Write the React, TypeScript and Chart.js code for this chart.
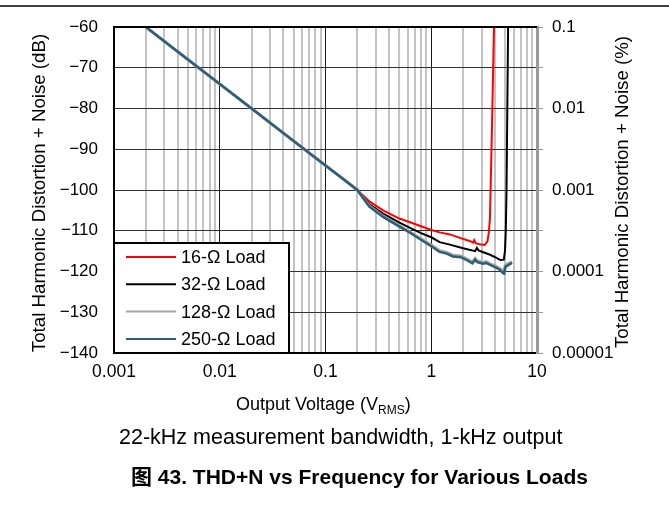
import React, { useEffect, useRef } from 'react';
import { Chart, registerables } from 'chart.js';

Chart.register(...registerables);

// ---------- data ----------
const seriesNames = ['16-Ω Load', '32-Ω Load', '128-Ω Load', '250-Ω Load'];
const seriesColors = ['#ff0000', '#000000', '#a6a6a6', '#2e5f78'];
const seriesWidths = [2, 2, 3, 2.5];

const v16 = [0.002, 0.005, 0.01, 0.02, 0.05, 0.1, 0.15, 0.2, 0.26, 0.35, 0.5, 0.63, 0.8, 1.0, 1.2, 1.5, 1.9, 2.3, 2.5, 2.55, 2.65, 3.0, 3.2, 3.4, 3.5, 3.59, 3.75, 3.92, 3.96];
const db16 = [-60, -68, -74, -80, -88, -94, -97.4, -100, -102.8, -105, -107, -107.9, -108.9, -109.8, -110.4, -110.9, -111.8, -112.5, -112.9, -112.3, -113.1, -113.4, -113.5, -112.6, -110.5, -107, -85, -60, -55];

const v32 = [0.002, 0.005, 0.01, 0.02, 0.05, 0.1, 0.15, 0.2, 0.26, 0.35, 0.5, 0.63, 0.8, 1.0, 1.2, 1.5, 2.0, 2.6, 2.7, 2.8, 3.2, 3.6, 4.1, 4.5, 4.85, 4.98, 5.07, 5.15, 5.33, 5.38];
const db32 = [-60, -68, -74, -80, -88, -94, -97.5, -100, -103.5, -105.8, -108, -109.3, -110.6, -111.6, -112.8, -113.4, -114.3, -115, -114.2, -114.8, -115.4, -115.9, -116.6, -117.2, -117.1, -115, -110, -100, -60, -55];

const v128 = [0.002, 0.005, 0.01, 0.02, 0.05, 0.1, 0.15, 0.2, 0.26, 0.35, 0.5, 0.63, 0.8, 1.0, 1.2, 1.4, 1.6, 1.9, 2.2, 2.45, 2.6, 2.7, 2.8, 3.1, 3.3, 3.6, 4.0, 4.4, 4.75, 4.85, 5.0, 5.15, 5.4, 5.8];
const db128 = [-60, -68, -74, -80, -88, -94, -97.5, -100, -103.9, -106.4, -108.8, -110.3, -112, -113.5, -114.9, -115.3, -116, -116.2, -117, -117.7, -116.8, -117.3, -117.5, -117.8, -117.6, -118.1, -118.6, -119.2, -119.8, -120.1, -118.5, -118.3, -118, -117.6];

const v250 = [0.002, 0.005, 0.01, 0.02, 0.05, 0.1, 0.15, 0.2, 0.26, 0.35, 0.5, 0.63, 0.8, 1.0, 1.2, 1.4, 1.6, 1.9, 2.2, 2.45, 2.6, 2.7, 2.8, 3.1, 3.3, 3.6, 4.0, 4.4, 4.78, 4.88, 5.05, 5.2, 5.45, 5.8];
const db250 = [-60, -68, -74, -80, -88, -94, -97.5, -100, -104.1, -106.6, -109, -110.5, -112.2, -113.8, -115.2, -115.6, -116.3, -116.5, -117.3, -118, -117.1, -117.6, -117.8, -118.1, -117.9, -118.4, -118.9, -119.5, -120.4, -120.5, -118.8, -118.6, -118.3, -117.9];

const xDecades = [0.001, 0.01, 0.1, 1, 10];
const xMinorMultipliers = [1, 2, 3, 4, 5, 6, 7, 8, 9];
const xTickLabels = ['0.001', '0.01', '0.1', '1', '10'];
const yTickValues = [-140, -130, -120, -110, -100, -90, -80, -70, -60];
const yTickLabels = ['\u2212140', '\u2212130', '\u2212120', '\u2212110', '\u2212100', '\u221290', '\u221280', '\u221270', '\u221260'];
const pctTickValues = [-140, -120, -100, -80, -60];
const pctTickLabels = ['0.00001', '0.0001', '0.001', '0.01', '0.1'];

const FONT = '"Liberation Sans", Arial, Helvetica, sans-serif';

const isDecade = (v: number) => {
  const l = Math.log10(v);
  return Math.abs(l - Math.round(l)) < 1e-6;
};

const decorPlugin = {
  id: 'decor',
  beforeDraw(chart: any) {
    const { ctx, width, height } = chart;
    ctx.save();
    ctx.fillStyle = '#ffffff';
    ctx.fillRect(0, 0, width, height);
    ctx.restore();
  },
  afterDatasetsDraw(chart: any) {
    const { ctx, chartArea } = chart;
    ctx.save();
    // legend box
    const bx = chartArea.left;
    const by = 243;
    const bw = 175;
    const bh = chartArea.bottom - by;
    ctx.fillStyle = '#ffffff';
    ctx.fillRect(bx, by, bw, bh);
    ctx.strokeStyle = '#000';
    ctx.lineWidth = 2;
    ctx.strokeRect(bx, by, bw, bh);
    ctx.font = `18px ${FONT}`;
    ctx.textBaseline = 'middle';
    ctx.textAlign = 'left';
    seriesNames.forEach((name, i) => {
      const y = by + 14 + i * 27.3;
      ctx.strokeStyle = seriesColors[i];
      ctx.lineWidth = 2;
      ctx.beginPath();
      ctx.moveTo(bx + 12, y);
      ctx.lineTo(bx + 62, y);
      ctx.stroke();
      ctx.fillStyle = '#000';
      ctx.fillText(name, bx + 67, y + 1);
    });
    ctx.restore();
  },
  afterDraw(chart: any) {
    const { ctx, chartArea, width } = chart;
    ctx.save();
    // top border of plot
    ctx.strokeStyle = '#000';
    ctx.lineWidth = 2;
    ctx.beginPath();
    ctx.moveTo(chartArea.left - 1, chartArea.top);
    ctx.lineTo(chartArea.right, chartArea.top);
    ctx.stroke();
    // page top rule
    ctx.lineWidth = 1.5;
    ctx.beginPath();
    ctx.moveTo(0, 6);
    ctx.lineTo(width, 6);
    ctx.stroke();

    ctx.fillStyle = '#000';
    // left y title
    ctx.save();
    ctx.translate(40, (chartArea.top + chartArea.bottom) / 2 + 3);
    ctx.rotate(-Math.PI / 2);
    ctx.font = `18.7px ${FONT}`;
    ctx.textAlign = 'center';
    ctx.textBaseline = 'middle';
    ctx.fillText('Total Harmonic Distortion + Noise (dB)', 0, 0);
    ctx.restore();
    // right y title
    ctx.save();
    ctx.translate(623, (chartArea.top + chartArea.bottom) / 2 + 2);
    ctx.rotate(-Math.PI / 2);
    ctx.font = `18.7px ${FONT}`;
    ctx.textAlign = 'center';
    ctx.textBaseline = 'middle';
    ctx.fillText('Total Harmonic Distortion + Noise (%)', 0, 0);
    ctx.restore();
    // x title with subscript
    const main = 'Output Voltage (V';
    const sub = 'RMS';
    const tail = ')';
    ctx.textBaseline = 'alphabetic';
    ctx.textAlign = 'left';
    ctx.font = `18px ${FONT}`;
    const wMain = ctx.measureText(main).width;
    const wTail = ctx.measureText(tail).width;
    ctx.font = `12px ${FONT}`;
    const wSub = ctx.measureText(sub).width;
    const total = wMain + wSub + wTail;
    const x0 = 236;
    const base = 410;
    ctx.font = `18px ${FONT}`;
    ctx.fillText(main, x0, base);
    ctx.font = `12px ${FONT}`;
    ctx.fillText(sub, x0 + wMain, base + 4);
    ctx.font = `18px ${FONT}`;
    ctx.fillText(tail, x0 + wMain + wSub, base);
    void total;
    // captions
    ctx.font = `21.5px ${FONT}`;
    ctx.fillText('22-kHz measurement bandwidth, 1-kHz output', 119, 444);
    ctx.font = `bold 21px ${FONT}, "Noto Sans CJK SC"`;
    ctx.fillText('图 43. THD+N vs Frequency for Various Loads', 131, 484);
    ctx.restore();
  },
};

export default function App() {
  const canvasRef = useRef<HTMLCanvasElement | null>(null);

  useEffect(() => {
    const canvas = canvasRef.current;
    if (!canvas) return;
    const xs = [v16, v32, v128, v250];
    const ys = [db16, db32, db128, db250];
    const order = [3, 2, 1, 0];
    const datasets = seriesNames.map((name, i) => ({
      label: name,
      data: xs[i].map((v, k) => ({ x: v, y: ys[i][k] })),
      borderColor: seriesColors[i],
      backgroundColor: seriesColors[i],
      borderWidth: seriesWidths[i],
      pointRadius: 0,
      tension: 0,
      fill: false,
      order: order[i],
    }));

    const xGrid: number[] = [];
    xDecades.forEach((d, i) => {
      if (i === xDecades.length - 1) {
        xGrid.push(d);
      } else {
        xMinorMultipliers.forEach((m) => xGrid.push(+(d * m).toPrecision(6)));
      }
    });

    const chart = new Chart(canvas, {
      type: 'line',
      data: { datasets },
      plugins: [decorPlugin],
      options: {
        responsive: false,
        devicePixelRatio: 1,
        animation: false,
        parsing: true,
        layout: { padding: { top: 27, bottom: 127, left: 0, right: 0 } },
        plugins: { legend: { display: false }, tooltip: { enabled: false }, title: { display: false } },
        scales: {
          x: {
            type: 'logarithmic',
            min: 0.001,
            max: 10,
            afterBuildTicks: (s: any) => {
              s.ticks = xGrid.map((v) => ({ value: v, major: isDecade(v) }));
            },
            afterFit: (s: any) => {
              s.height = 30;
            },
            grid: {
              drawTicks: false,
              color: (c: any) => (c.tick && isDecade(c.tick.value) ? '#1a1a1a' : '#c4c4c4'),
              lineWidth: (c: any) => (c.tick && isDecade(c.tick.value) ? 1 : 2),
            },
            border: { color: '#000', width: 2 },
            ticks: {
              autoSkip: false,
              maxRotation: 0,
              padding: 9,
              color: '#000',
              font: { family: FONT, size: 17.5 },
              callback: (v: any) => {
                const n = Number(v);
                if (!isDecade(n)) return '';
                return xTickLabels[Math.round(Math.log10(n)) + 3];
              },
            },
          },
          y: {
            type: 'linear',
            position: 'left',
            min: -140,
            max: -60,
            afterBuildTicks: (s: any) => {
              s.ticks = yTickValues.map((v) => ({ value: v }));
            },
            afterFit: (s: any) => {
              s.width = 114;
            },
            grid: { drawTicks: false, color: '#333333', lineWidth: 1 },
            border: { color: '#000', width: 2 },
            ticks: {
              padding: 16,
              color: '#000',
              font: { family: FONT, size: 17 },
              callback: (v: any) => {
                const idx = yTickValues.indexOf(Number(v));
                return idx >= 0 ? yTickLabels[idx] : '';
              },
            },
          },
          y2: {
            type: 'linear',
            position: 'right',
            min: -140,
            max: -60,
            afterBuildTicks: (s: any) => {
              s.ticks = yTickValues.map((v) => ({ value: v }));
            },
            afterFit: (s: any) => {
              s.width = 132;
            },
            grid: { drawOnChartArea: false, drawTicks: true, tickLength: 6, color: '#999999', lineWidth: 1 },
            border: { color: '#999999', width: 3 },
            ticks: {
              padding: 9,
              color: '#000',
              font: { family: FONT, size: 17 },
              callback: (v: any) => {
                const idx = pctTickValues.indexOf(Number(v));
                return idx >= 0 ? pctTickLabels[idx] : '';
              },
            },
          },
        },
      } as any,
    });
    return () => chart.destroy();
  }, []);

  return (
    <div style={{ position: 'absolute', left: 0, top: 0, width: 669, height: 510 }}>
      <canvas ref={canvasRef} width={669} height={510} style={{ display: 'block' }} />
    </div>
  );
}
